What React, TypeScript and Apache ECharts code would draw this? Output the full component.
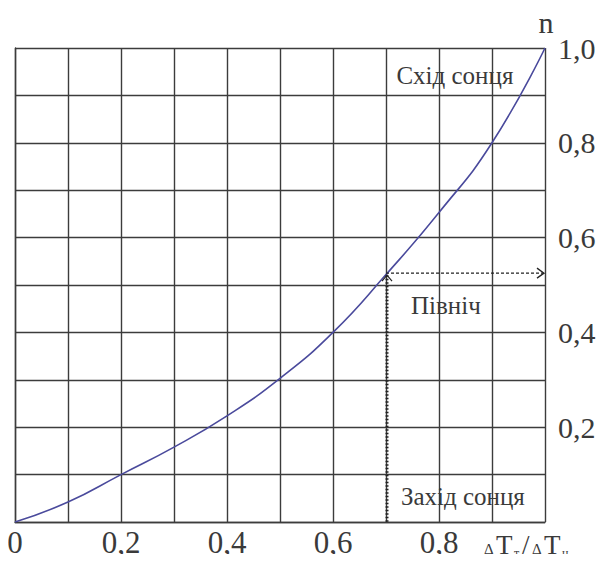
import React, { useEffect, useRef } from "react";
import * as echarts from "echarts";

// Relative temperature difference (ΔTт/ΔTн) and the n value along the curve
const ratioValues = [0, 0.1, 0.2, 0.3, 0.4, 0.5, 0.6, 0.7, 0.8, 0.9, 1.0];
const nValues = [0, 0.042, 0.1, 0.158, 0.224, 0.303, 0.4, 0.522, 0.653, 0.8, 1.0];

// Marked reading on the curve
const markedPoint = [0.7, 0.525];

// Annotations placed in data coordinates
const annotationTexts = ["Схід сонця", "Північ", "Захід сонця"];
const annotationX = [0.83, 0.813, 0.845];
const annotationY = [0.941, 0.456, 0.053];

const xTickLabels: Record<string, string> = {
  "0": "0",
  "0.2": "0,2",
  "0.4": "0,4",
  "0.6": "0,6",
  "0.8": "0,8",
};
const yTickLabels: Record<string, string> = {
  "0.2": "0,2",
  "0.4": "0,4",
  "0.6": "0,6",
  "0.8": "0,8",
  "1": "1,0",
};

const SERIF = "Liberation Serif";
const GRID_COLOR = "#3c3c3c";
const TEXT_COLOR = "#3a3a3a";

const font = (size: number) => `${size}px "${SERIF}", serif`;

// x axis title ΔTт/ΔTн built from plain text pieces (small Δ, subscripts)
const axisTitleParts = [
  { t: "Δ", size: 15, dx: 0, dy: 4 },
  { t: "T", size: 27, dx: 12, dy: 0 },
  { t: "т", size: 12, dx: 30, dy: 8 },
  { t: "/", size: 27, dx: 38, dy: 0 },
  { t: "Δ", size: 15, dx: 48, dy: 4 },
  { t: "T", size: 27, dx: 60, dy: 0 },
  { t: "н", size: 12, dx: 78, dy: 8 },
];

export default function App() {
  const ref = useRef<HTMLDivElement>(null);

  useEffect(() => {
    if (!ref.current) return;
    const chart = echarts.init(ref.current, undefined, { renderer: "svg" });

    const key = (v: number) => String(Math.round(v * 10) / 10);

    chart.setOption({
      animation: false,
      backgroundColor: "#ffffff",
      textStyle: { fontFamily: SERIF },
      grid: { left: 15, right: 61, top: 48, bottom: 40, containLabel: false },
      graphic: [
        {
          type: "text",
          x: 546,
          y: 22,
          style: {
            text: "n",
            font: font(30),
            fill: TEXT_COLOR,
            align: "center",
            verticalAlign: "middle",
          },
        },
        {
          type: "group",
          x: 484,
          y: 545,
          children: axisTitleParts.map((p) => ({
            type: "text",
            x: p.dx,
            y: p.dy,
            style: {
              text: p.t,
              font: font(p.size),
              fill: TEXT_COLOR,
              verticalAlign: "middle",
            },
          })),
        },
      ],
      xAxis: {
        type: "value",
        min: 0,
        max: 1,
        interval: 0.1,
        axisLine: { show: true, lineStyle: { color: GRID_COLOR, width: 1.4 } },
        axisTick: { show: false },
        splitLine: { show: true, lineStyle: { color: GRID_COLOR, width: 1.4 } },
        axisLabel: {
          margin: 5,
          color: TEXT_COLOR,
          fontFamily: SERIF,
          fontSize: 31,
          showMinLabel: true,
          hideOverlap: false,
          formatter: (v: number) => xTickLabels[key(v)] ?? "",
        },
      },
      yAxis: {
        type: "value",
        position: "right",
        min: 0,
        max: 1,
        interval: 0.1,
        axisLine: { show: true, lineStyle: { color: GRID_COLOR, width: 1.4 } },
        axisTick: { show: false },
        splitLine: { show: true, lineStyle: { color: GRID_COLOR, width: 1.4 } },
        axisLabel: {
          margin: 13,
          color: TEXT_COLOR,
          fontFamily: SERIF,
          fontSize: 30,
          hideOverlap: false,
          formatter: (v: number) => yTickLabels[key(v)] ?? "",
        },
      },
      series: [
        {
          type: "line",
          data: ratioValues.map((x, i) => [x, nValues[i]]),
          smooth: 0.5,
          showSymbol: false,
          lineStyle: { color: "#4a4a9c", width: 1.6 },
          z: 5,
        },
        {
          // dashed guide lines with arrowheads from the marked point
          type: "custom",
          data: [markedPoint],
          z: 6,
          renderItem: (params: any, api: any) => {
            const px = api.value(0);
            const py = api.value(1);
            const p = api.coord([px, py]);
            const right = api.coord([1, py]);
            const bottom = api.coord([px, 0]);
            const stroke = "#222";
            return {
              type: "group",
              children: [
                {
                  type: "line",
                  shape: { x1: p[0], y1: p[1], x2: right[0] - 2, y2: right[1] },
                  style: { stroke, lineWidth: 1.3, lineDash: [3, 2] },
                },
                {
                  type: "polyline",
                  shape: {
                    points: [
                      [right[0] - 8, right[1] - 5],
                      [right[0] - 1, right[1]],
                      [right[0] - 8, right[1] + 5],
                    ],
                  },
                  style: { stroke, lineWidth: 1.3, fill: "none" },
                },
                {
                  type: "line",
                  shape: { x1: p[0] + 1, y1: p[1] + 2, x2: bottom[0] + 1, y2: bottom[1] },
                  style: { stroke, lineWidth: 3, lineDash: [1.5, 2] },
                },
                {
                  type: "polyline",
                  shape: {
                    points: [
                      [p[0] - 4, p[1] + 8],
                      [p[0] + 1, p[1] + 2],
                      [p[0] + 6, p[1] + 8],
                    ],
                  },
                  style: { stroke, lineWidth: 1.2, fill: "none" },
                },
              ],
            };
          },
        },
        {
          // text annotations
          type: "custom",
          data: annotationTexts.map((t, i) => [annotationX[i], annotationY[i], t]),
          z: 7,
          renderItem: (params: any, api: any) => {
            const c = api.coord([api.value(0), api.value(1)]);
            return {
              type: "text",
              x: c[0],
              y: c[1],
              style: {
                text: annotationTexts[params.dataIndex],
                font: font(25),
                fill: TEXT_COLOR,
                align: "center",
                verticalAlign: "middle",
              },
            };
          },
        },
      ],
    });

    return () => chart.dispose();
  }, []);

  return <div ref={ref} style={{ width: 606, height: 562, margin: -8 }} />;
}
